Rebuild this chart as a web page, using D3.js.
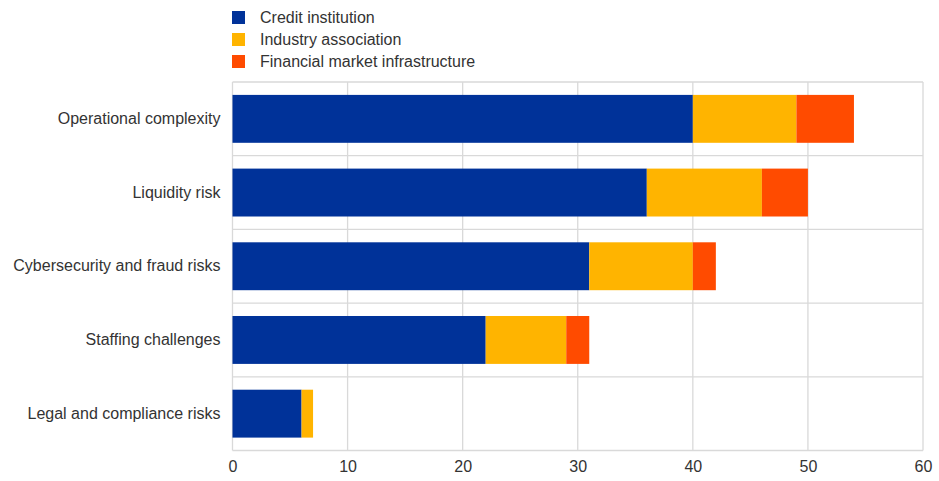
<!DOCTYPE html>
<html>
<head>
<meta charset="utf-8">
<script src="https://cdn.jsdelivr.net/npm/d3@7"></script>
<style>
  body { margin: 0; background: #fff; }
  text { font-family: "Liberation Sans", Arial, sans-serif; fill: #333; }
</style>
</head>
<body>
<div id="chart"></div>
<script>
// data
var categories = ["Operational complexity", "Liquidity risk", "Cybersecurity and fraud risks", "Staffing challenges", "Legal and compliance risks"];
var series = ["Credit institution", "Industry association", "Financial market infrastructure"];
var creditInstitution = [40, 36, 31, 22, 6];
var industryAssociation = [9, 10, 9, 7, 1];
var fmi = [5, 4, 2, 2, 0];
var xTicks = [0, 10, 20, 30, 40, 50, 60];
var colors = ["#003299", "#ffb400", "#ff4b00"];

var W = 939, H = 481;
var margin = { top: 82, right: 16, bottom: 30.5, left: 232.5 },
    width = W - margin.left - margin.right,
    height = H - margin.top - margin.bottom;

var svg = d3.select("#chart")
    .append("svg")
    .attr("width", W)
    .attr("height", H)

var g = svg.append("g")
    .attr("transform", "translate(" + margin.left + "," + margin.top + ")");

var table = categories.map(function(c, i) {
    return { cat: c, "Credit institution": creditInstitution[i], "Industry association": industryAssociation[i], "Financial market infrastructure": fmi[i] };
});
var stacked = d3.stack().keys(series)(table);

var x = d3.scaleLinear().domain([0, 60]).range([0, width]);
var y = d3.scaleBand().domain(categories).range([0, height]).paddingInner(0.35).paddingOuter(0.175);

// grid: vertical lines
g.append("g")
    .selectAll("line")
    .data(xTicks)
    .enter().append("line")
    .attr("x1", function(d) { return x(d); })
    .attr("x2", function(d) { return x(d); })
    .attr("y1", 0)
    .attr("y2", height)
    .attr("stroke", "#d9d9d9")
    .attr("stroke-width", 1.3);

// grid: horizontal lines at band edges
var edges = d3.range(categories.length + 1).map(function(i) { return i * height / categories.length; });
g.append("g")
    .selectAll("line")
    .data(edges)
    .enter().append("line")
    .attr("x1", 0)
    .attr("x2", width)
    .attr("y1", function(d) { return d; })
    .attr("y2", function(d) { return d; })
    .attr("stroke", "#d9d9d9")
    .attr("stroke-width", 1.3);

// bars
g.append("g")
    .selectAll("g")
    .data(stacked)
    .enter().append("g")
    .attr("fill", function(d, i) { return colors[i]; })
    .selectAll("rect")
    .data(function(d) { return d; })
    .enter().append("rect")
    .attr("x", function(d) { return x(d[0]); })
    .attr("y", function(d) { return y(d.data.cat); })
    .attr("width", function(d) { return x(d[1]) - x(d[0]); })
    .attr("height", y.bandwidth());

// x axis
var xAxis = g.append("g")
    .attr("transform", "translate(0," + height + ")")
    .call(d3.axisBottom(x).tickValues(xTicks).tickSize(0).tickPadding(10));
xAxis.select(".domain").remove();
xAxis.selectAll("text").style("font-size", "16px").attr("fill", "#333");

// y axis
var yAxis = g.append("g")
    .call(d3.axisLeft(y).tickSize(0).tickPadding(12));
yAxis.select(".domain").remove();
yAxis.selectAll("text").style("font-size", "16px").attr("fill", "#333");

// legend
var legend = svg.append("g")
    .attr("transform", "translate(232,17)");
var item = legend.selectAll("g")
    .data(series)
    .enter().append("g")
    .attr("transform", function(d, i) { return "translate(0," + (i * 22) + ")"; });
item.append("rect")
    .attr("x", 0)
    .attr("y", -6)
    .attr("width", 13)
    .attr("height", 13)
    .attr("fill", function(d, i) { return colors[i]; });
item.append("text")
    .attr("x", 28)
    .attr("y", 0)
    .attr("dy", "0.35em")
    .style("font-size", "16px")
    .text(function(d) { return d; });
</script>
</body>
</html>
